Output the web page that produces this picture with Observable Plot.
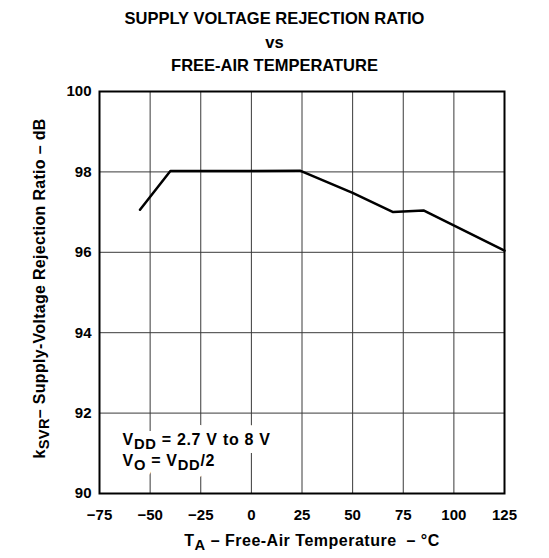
<!DOCTYPE html>
<meta charset="utf-8">
<div id="title">SUPPLY VOLTAGE REJECTION RATIO<br>vs<br>FREE-AIR TEMPERATURE</div>
<div id="plot"></div>
<script src="https://cdn.jsdelivr.net/npm/d3@7"></script>
<script src="https://cdn.jsdelivr.net/npm/@observablehq/plot@0.6"></script>
<script>

// values
const temperature = [-55, -40, 0, 24, 50, 70, 85, 125];
const ksvr = [97.06, 98.02, 98.02, 98.03, 97.48, 97.0, 97.04, 96.04];

const xTicks = [-75, -50, -25, 0, 25, 50, 75, 100, 125];
const yTicks = [90, 92, 94, 96, 98, 100];

// _{...} marks a subscript
const noteLines = ['V_{DD} = 2.7 V to 8 V', 'V_{O} = V_{DD}/2'];
const xLabel = 'T_{A} \u2013 Free-Air Temperature\u00a0\u00a0\u2013 \u00b0C';
const yLabel = 'k_{SVR}\u2013 Supply-Voltage Rejection Ratio \u2013 dB';

const data = temperature.map((t, i) => ({ t: t, v: ksvr[i] }));

const gridStyle = { stroke: '#3a3a3a', strokeOpacity: 1, strokeWidth: 1 };
const noteAt = [-49, -28];

const plot = Plot.plot({
	width: 549,
	height: 482,
	marginLeft: 99,
	marginRight: 45,
	marginTop: 15,
	marginBottom: 65,
	style: { fontFamily: '"Liberation Sans", Arial, sans-serif', fontSize: '15px', fontWeight: 'bold', color: 'black', background: 'white' },
	x: { domain: [-75, 125], label: null },
	y: { domain: [90, 100], label: null },
	marks: [
		Plot.gridX(xTicks, gridStyle),
		Plot.gridY(yTicks, gridStyle),
		Plot.axisX(xTicks, { tickSize: 0, tickPadding: 16, fontSize: 15, className: 'ticks' }),
		Plot.axisY(yTicks, { tickSize: 0, tickPadding: 8, fontSize: 15 }),
		Plot.line(data, { x: 't', y: 'v', stroke: 'black', strokeWidth: 2.5 }),
		...noteLines.map((line, i) => Plot.text([line], { frameAnchor: 'bottom-left', textAnchor: 'start', lineAnchor: 'bottom',
			dx: 23, dy: noteAt[i], fontSize: 16, fill: 'white', stroke: 'white', strokeWidth: 16, className: 'note' })),
		...noteLines.map((line, i) => Plot.text([line], { frameAnchor: 'bottom-left', textAnchor: 'start', lineAnchor: 'bottom',
			dx: 23, dy: noteAt[i], fontSize: 16, fill: 'black', className: 'note' })),
		Plot.text([xLabel], { frameAnchor: 'bottom', lineAnchor: 'bottom', dx: 10, dy: 52, fontSize: 16, fill: 'black', className: 'xlabel' }),
		Plot.text([yLabel], { frameAnchor: 'left', textAnchor: 'middle', rotate: -90, lineAnchor: 'middle', dx: -60, dy: -4,
			fontSize: 16, fill: 'black', className: 'ylabel' }),
		Plot.frame({ stroke: 'black', strokeWidth: 2 }),
	],
});

document.querySelector('#plot').append(plot);

// turn _{...} into lowered tspans
const SUB = 4;
for (let node of plot.querySelectorAll('text')) {
	const content = node.textContent;
	if (!content.includes('_{')) continue;
	const parts = content.split(/_\{(.*?)\}/);
	node.textContent = '';
	let shift = 0;
	parts.forEach((part, i) => {
		if (!part) return;
		const isSub = i % 2 == 1;
		const tspan = document.createElementNS('http://www.w3.org/2000/svg', 'tspan');
		const target = isSub ? SUB : 0;
		if (target != shift) tspan.setAttribute('dy', target - shift);
		if (isSub) tspan.setAttribute('font-size', '0.92em');
		shift = target;
		tspan.textContent = part;
		node.append(tspan);
	});
}

</script>
<style>

html, body {
	margin: 0;
	background: white;
}

#title {
	font-family: "Liberation Sans", Arial, sans-serif;
	font-weight: bold;
	font-size: 16.5px;
	line-height: 23.5px;
	text-align: center;
	height: 69px;
	padding-top: 7px;
	width: 549px;
}

#plot > svg {
	display: block;
}

.note text {
	letter-spacing: 0.7px;
}

.xlabel text {
	letter-spacing: 0.5px;
}

.ylabel text {
	letter-spacing: 0.3px;
}

</style>
